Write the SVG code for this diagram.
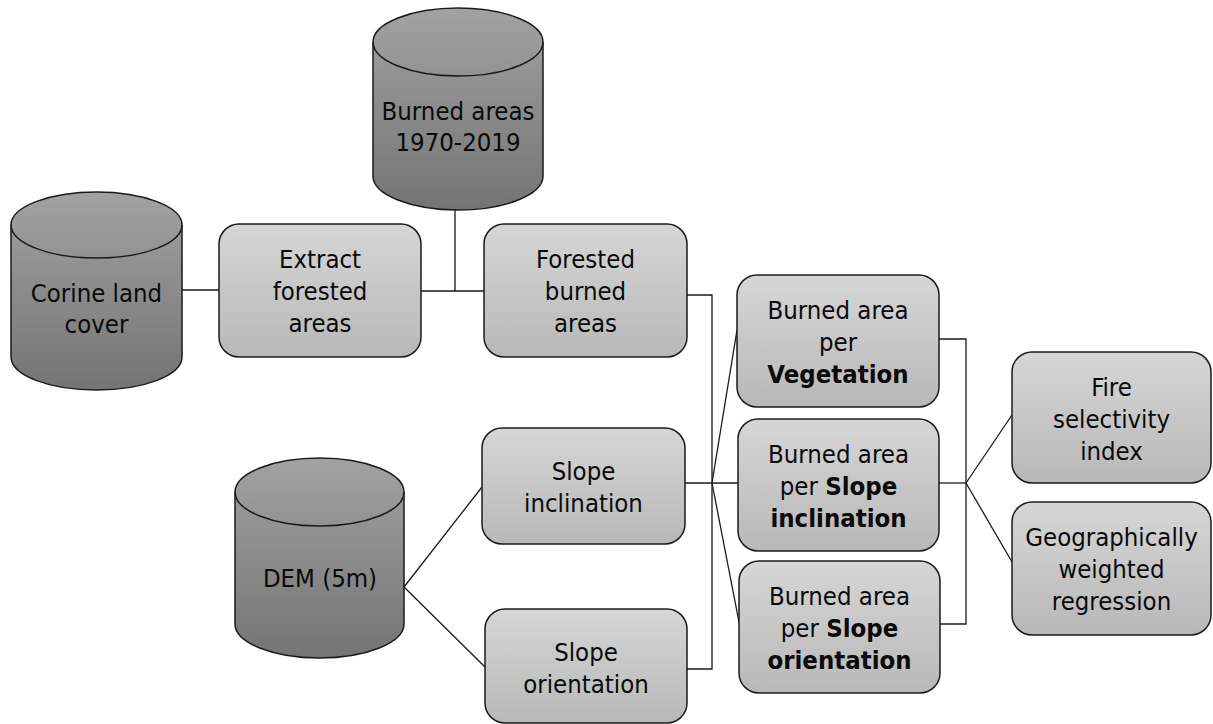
<svg xmlns="http://www.w3.org/2000/svg" width="1213" height="724" viewBox="0 0 1213 724">
<defs>
<linearGradient id="gCyl" x1="0" y1="0" x2="0" y2="1">
<stop offset="0" stop-color="#a2a2a2"/>
<stop offset="1" stop-color="#747474"/>
</linearGradient>
<linearGradient id="gBox" x1="0" y1="0" x2="0" y2="1">
<stop offset="0" stop-color="#d6d6d6"/>
<stop offset="1" stop-color="#b8b8b8"/>
</linearGradient>
<style>
.cyl{fill:url(#gCyl);stroke:#1a1a1a;stroke-width:1.5}
.rim{fill:none;stroke:#1a1a1a;stroke-width:1.5}
.box{fill:url(#gBox);stroke:#1a1a1a;stroke-width:1.5}
.t{font-family:"DejaVu Sans Condensed","DejaVu Sans",sans-serif;font-stretch:condensed;font-size:25.5px;text-anchor:middle;fill:#0a0a0a}
.b{font-weight:bold}
.c{fill:none;stroke:#1a1a1a;stroke-width:1.3}
</style>
</defs>
<g id="connectors">
<path class="c" d="M182,290 H219"/>
<path class="c" d="M421,291 H484 M455,210 V291"/>
<path class="c" d="M687,295 H712 V669 H687"/>
<path class="c" d="M685,483 H738"/>
<path class="c" d="M712,483 L737,330 M712,483 L739,622"/>
<path class="c" d="M404,587 L482,487 M404,587 L485,667"/>
<path class="c" d="M939,339 H966 V624 H940"/>
<path class="c" d="M939,483 H966"/>
<path class="c" d="M966,483 L1012,415 M966,483 L1012,562"/>
</g>
<g id="burned">
<path class="cyl" d="M373,42 A85,34 0 0 1 543,42 V176 A85,34 0 0 1 373,176 Z"/>
<path class="rim" d="M373,42 A85,34 0 0 0 543,42"/>
<text class="t" x="458" y="119.5">Burned areas</text>
<text class="t" x="458" y="151">1970-2019</text>
</g>
<g id="corine">
<path class="cyl" d="M11,225 A85.5,33 0 0 1 182,225 V357 A85.5,33 0 0 1 11,357 Z"/>
<path class="rim" d="M11,225 A85.5,33 0 0 0 182,225"/>
<text class="t" x="96.5" y="301.5">Corine land</text>
<text class="t" x="96.5" y="333">cover</text>
</g>
<g id="dem">
<path class="cyl" d="M235,492 A84.5,34 0 0 1 404,492 V624 A84.5,34 0 0 1 235,624 Z"/>
<path class="rim" d="M235,492 A84.5,34 0 0 0 404,492"/>
<text class="t" x="320" y="587">DEM (5m)</text>
</g>
<g id="extract">
<rect class="box" x="219" y="224" width="202" height="133" rx="20"/>
<text class="t" x="320" y="268">Extract</text>
<text class="t" x="320" y="300">forested</text>
<text class="t" x="320" y="332">areas</text>
</g>
<g id="forested">
<rect class="box" x="484" y="224" width="203" height="133" rx="20"/>
<text class="t" x="585.5" y="268">Forested</text>
<text class="t" x="585.5" y="300">burned</text>
<text class="t" x="585.5" y="332">areas</text>
</g>
<g id="slope-inclination">
<rect class="box" x="482" y="428" width="203" height="116" rx="20"/>
<text class="t" x="583.5" y="480">Slope</text>
<text class="t" x="583.5" y="511.5">inclination</text>
</g>
<g id="slope-orientation">
<rect class="box" x="485" y="609" width="202" height="114" rx="20"/>
<text class="t" x="586" y="661">Slope</text>
<text class="t" x="586" y="693">orientation</text>
</g>
<g id="ba-vegetation">
<rect class="box" x="737" y="275" width="202" height="132" rx="20"/>
<text class="t" x="838" y="318.5">Burned area</text>
<text class="t" x="838" y="350.5">per</text>
<text class="t b" x="838" y="382.5">Vegetation</text>
</g>
<g id="ba-inclination">
<rect class="box" x="738" y="419" width="201" height="132" rx="20"/>
<text class="t" x="838.5" y="462.5">Burned area</text>
<text class="t" x="838.5" y="494.5">per <tspan class="b">Slope</tspan></text>
<text class="t b" x="838.5" y="526.5">inclination</text>
</g>
<g id="ba-orientation">
<rect class="box" x="739" y="561" width="201" height="132" rx="20"/>
<text class="t" x="839.5" y="604.5">Burned area</text>
<text class="t" x="839.5" y="636.5">per <tspan class="b">Slope</tspan></text>
<text class="t b" x="839.5" y="668.5">orientation</text>
</g>
<g id="fire-selectivity">
<rect class="box" x="1012" y="352" width="199" height="131" rx="20"/>
<text class="t" x="1111.5" y="396">Fire</text>
<text class="t" x="1111.5" y="428">selectivity</text>
<text class="t" x="1111.5" y="460">index</text>
</g>
<g id="gwr">
<rect class="box" x="1012" y="502" width="199" height="133" rx="20"/>
<text class="t" x="1111.5" y="546">Geographically</text>
<text class="t" x="1111.5" y="578">weighted</text>
<text class="t" x="1111.5" y="610">regression</text>
</g>
</svg>
